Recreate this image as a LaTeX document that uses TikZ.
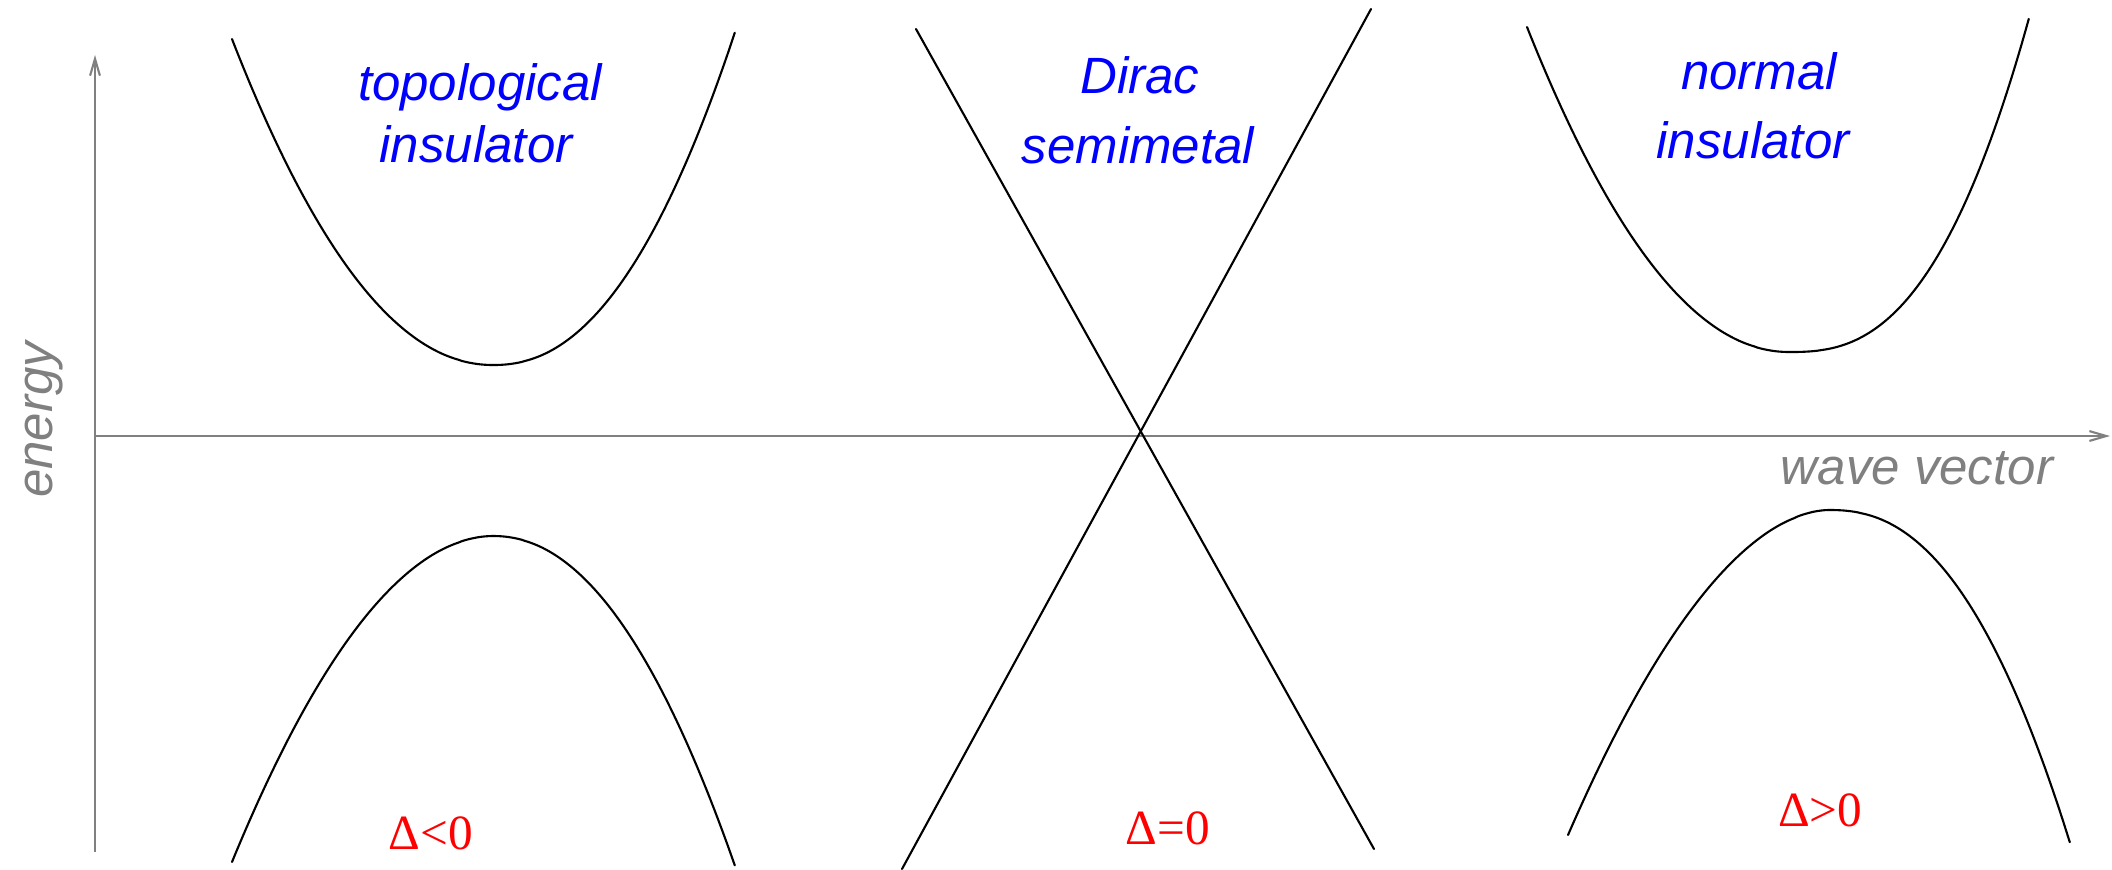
\documentclass[tikz,border=0pt]{standalone}
\usepackage{fontspec}
\setmainfont{Liberation Serif}
\setsansfont{Liberation Sans}
\usetikzlibrary{arrows.meta}
\definecolor{axisgray}{RGB}{128,128,128}
% band curve: apex (#1,#2); left arm width #3, height #4, exponent #5; right arm width #6, height #7, exponent #8
\newcommand{\bandcurve}[8]{%
  \draw[band] plot[domain=1:0.002, samples=70, variable=\t] ({#1-#3*\t},{#2+(#4)*(\t)^(#5)})
     -- plot[domain=0.002:1, samples=70, variable=\t] ({#1+#6*\t},{#2+(#7)*(\t)^(#8)});}
\begin{document}
\begin{tikzpicture}[x=0.01cm,y=-0.01cm,
  band/.style={line width=0.6pt, black, line join=round, line cap=round},
  axis/.style={line width=0.6pt, axisgray, -{Straight Barb[length=4.8pt,width=2.8pt]}},
  phase/.style={font=\fontsize{14.5}{17}\selectfont\sffamily\itshape, text=blue, anchor=base, inner sep=0pt},
  gap/.style={font=\fontsize{14}{17}\selectfont\rmfamily, text=red, anchor=base, inner sep=0pt},
  axlabel/.style={font=\fontsize{14.5}{17}\selectfont\sffamily\itshape, text=axisgray, anchor=base, inner sep=0pt}]
\useasboundingbox (0,0) rectangle (2112,869);

% axes
\coordinate (O) at (95,436);
\coordinate (ytop) at (95,55);
\coordinate (ybot) at (95,852);
\coordinate (xend) at (2110,436);
\draw[axis] (ybot) -- (ytop);
\draw[axis] (O) -- (xend);

% topological insulator bands
\bandcurve{493}{365}{261}{-326}{2.06}{242}{-333}{2.2}
\bandcurve{493}{536}{261}{326}{1.95}{242}{330}{2.1}

% Dirac semimetal bands
\coordinate (a1) at (916,29);
\coordinate (a2) at (1374,849);
\coordinate (b1) at (1371,9);
\coordinate (b2) at (902,869);
\draw[band] (a1) -- (a2);
\draw[band] (b1) -- (b2);

% normal insulator bands
\bandcurve{1789}{352}{262}{-325}{2.03}{240}{-334}{2.6}
\bandcurve{1829}{510}{261}{325}{1.85}{241}{333}{2.33}

% labels
\node[phase] (top1) at (480,100) {topological};
\node[phase] (top2) at (476,162) {insulator};
\node[phase] (dir1) at (1140,93) {Dirac};
\node[phase] (dir2) at (1138,163) {semimetal};
\node[phase] (nor1) at (1759,89) {normal};
\node[phase] (nor2) at (1753,158) {insulator};

\node[gap] (g1) at (431,849) {Δ<0};
\node[gap] (g2) at (1168,844) {Δ=0};
\node[gap] (g3) at (1820,826) {Δ>0};

\node[axlabel, rotate=90] (en) at (52,420) {energy};
\node[axlabel] (wv) at (1917,484) {wave vector};
\end{tikzpicture}
\end{document}
